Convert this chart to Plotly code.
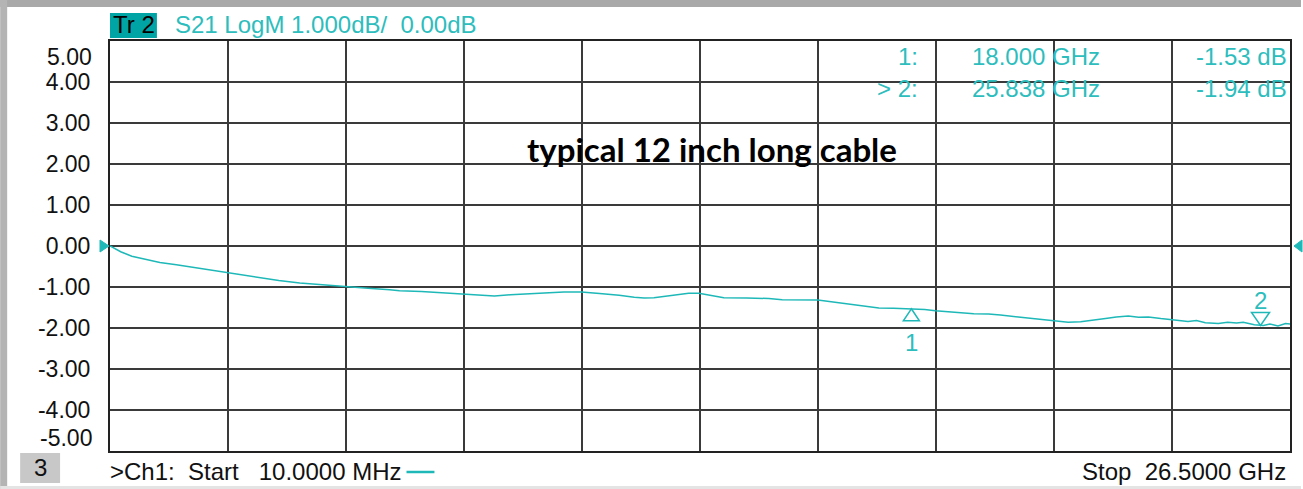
import plotly.graph_objects as go

# ---- data ----
freq_ghz = [0.01, 0.1, 0.25, 0.5, 0.8, 1.13, 1.5, 2.03, 2.65, 3.0, 3.37, 3.8, 4.27, 4.8, 5.3, 5.8,
            6.29, 6.51, 7.0, 7.5, 7.94, 8.3, 8.64, 9.0, 9.4, 9.87, 10.2, 10.59, 11.0, 11.44, 11.78,
            12.0, 12.22, 12.5, 12.78, 13.0, 13.23, 13.5, 13.79, 14.3, 14.8, 15.1, 15.47, 15.9, 16.2,
            16.59, 17.0, 17.27, 17.6, 17.98, 18.3, 18.54, 18.8, 19.06, 19.4, 19.73, 20.0, 20.4, 20.8,
            21.19, 21.52, 21.8, 22.08, 22.4, 22.6, 22.87, 23.1, 23.32, 23.6, 23.83, 24.0, 24.21, 24.4,
            24.6, 24.89, 25.1, 25.3, 25.45, 25.7, 25.9, 26.05, 26.23, 26.4, 26.5]
s21_db = [0.00, -0.06, -0.14, -0.25, -0.33, -0.40, -0.46, -0.55, -0.65, -0.71, -0.77, -0.84, -0.90, -0.95,
          -0.99, -1.03, -1.07, -1.09, -1.11, -1.14, -1.17, -1.19, -1.22, -1.19, -1.16, -1.14, -1.12, -1.12,
          -1.16, -1.20, -1.25, -1.27, -1.26, -1.22, -1.18, -1.15, -1.15, -1.20, -1.26, -1.27, -1.28, -1.31,
          -1.32, -1.32, -1.36, -1.41, -1.46, -1.51, -1.52, -1.53, -1.55, -1.58, -1.60, -1.63, -1.65, -1.66,
          -1.68, -1.73, -1.77, -1.81, -1.86, -1.85, -1.80, -1.76, -1.73, -1.71, -1.74, -1.73, -1.77, -1.79,
          -1.81, -1.84, -1.82, -1.87, -1.89, -1.86, -1.88, -1.86, -1.92, -1.94, -1.90, -1.95, -1.89, -1.90]

marker_ids = ["1", "2"]
marker_freq = [18.000, 25.838]
marker_db = [-1.53, -1.94]
marker_freq_text = ["18.000 GHz", "25.838 GHz"]
marker_db_text = ["-1.53 dB", "-1.94 dB"]

y_ticks = [-4, -3, -2, -1, 0, 1, 2, 3, 4]
y_edge_ticks = [5, -5]
y_min, y_max = -5, 5
ref_level_db = 0.0
start_ghz, stop_ghz = 0.01, 26.5
n_div = 10

TEAL = "#1fb8b8"
TEXT_TEAL = "#2dbdbd"
FONT = "Liberation Sans, Arial, sans-serif"
FS = 24
TICK_FS = 23

W, H = 1303, 489
L, R, T, B = 110, 1292, 41, 451


def px(x):
    return (x - L) / (R - L)


def py(y):
    return (B - y) / (B - T)


fig = go.Figure()
fig.add_trace(go.Scatter(x=freq_ghz, y=s21_db, mode="lines",
                         line=dict(color=TEAL, width=1.5), hoverinfo="skip", showlegend=False))

step = (stop_ghz - start_ghz) / n_div
xgrid = [start_ghz + i * step for i in range(n_div + 1)]

shapes = []
annotations = []

# window frame
shapes.append(dict(type="rect", xref="paper", yref="paper", x0=px(0), x1=px(W), y0=py(0), y1=py(7),
                   fillcolor="#a9a9a9", line_width=0, layer="above"))
shapes.append(dict(type="rect", xref="paper", yref="paper", x0=px(0), x1=px(7), y0=py(0), y1=py(H),
                   fillcolor="#b4b4b4", line_width=0, layer="above"))
shapes.append(dict(type="rect", xref="paper", yref="paper", x0=px(0), x1=px(W), y0=py(486), y1=py(H),
                   fillcolor="#e4e4e4", line_width=0, layer="above"))

# reference level arrows (paper-referenced so they are not clipped)
ref_paper_y = (ref_level_db - y_min) / (y_max - y_min)
shapes.append(dict(type="path", xref="paper", yref="paper", xsizemode="pixel", ysizemode="pixel",
                   xanchor=0, yanchor=ref_paper_y, path="M -10,6 L -1,0 L -10,-6 Z",
                   fillcolor=TEAL, line=dict(color=TEAL, width=1), layer="above"))
shapes.append(dict(type="path", xref="paper", yref="paper", xsizemode="pixel", ysizemode="pixel",
                   xanchor=1, yanchor=ref_paper_y, path="M 12,6 L 4,0 L 12,-6 Z",
                   fillcolor=TEAL, line=dict(color=TEAL, width=1), layer="above"))

# marker triangles
shapes.append(dict(type="path", xref="x", yref="y", xsizemode="pixel", ysizemode="pixel",
                   xanchor=marker_freq[0], yanchor=marker_db[0], path="M 0,0 L 8,-12 L -8,-12 Z",
                   line=dict(color=TEAL, width=1.5), layer="above"))
shapes.append(dict(type="path", xref="x", yref="y", xsizemode="pixel", ysizemode="pixel",
                   xanchor=marker_freq[1], yanchor=marker_db[1], path="M 0,0 L 9,13 L -9,13 Z",
                   line=dict(color=TEAL, width=1.5), layer="above"))
annotations.append(dict(x=marker_freq[0], y=marker_db[0], xref="x", yref="y", text=marker_ids[0],
                        showarrow=False, yshift=-34, font=dict(family=FONT, size=FS, color=TEXT_TEAL)))
annotations.append(dict(x=marker_freq[1], y=marker_db[1], xref="x", yref="y", text=marker_ids[1],
                        showarrow=False, yshift=25, font=dict(family=FONT, size=FS, color=TEXT_TEAL)))

# header
shapes.append(dict(type="rect", xref="paper", yref="paper", x0=px(110), x1=px(157), y0=py(13), y1=py(38),
                   fillcolor="#00a4a4", line_width=0))
annotations.append(dict(x=px(111), y=py(25), xref="paper", yref="paper", xanchor="left", yanchor="middle",
                        text="Tr 2", showarrow=False, font=dict(family=FONT, size=FS, color="#000000")))
annotations.append(dict(x=px(173), y=py(25), xref="paper", yref="paper", xanchor="left", yanchor="middle",
                        text="S21 LogM 1.000dB/\u00a0\u00a00.00dB", showarrow=False,
                        font=dict(family=FONT, size=FS, color=TEXT_TEAL)))

# marker table
rows_y = [56, 88]
prefixes = ["", ">\u00a0"]
for i in range(2):
    annotations.append(dict(x=px(921), y=py(rows_y[i]), xref="paper", yref="paper", xanchor="right",
                            yanchor="middle", text=prefixes[i] + marker_ids[i] + ":", showarrow=False,
                            font=dict(family=FONT, size=FS, color=TEXT_TEAL)))
    annotations.append(dict(x=px(971), y=py(rows_y[i]), xref="paper", yref="paper", xanchor="left",
                            yanchor="middle", text=marker_freq_text[i], showarrow=False,
                            font=dict(family=FONT, size=FS, color=TEXT_TEAL)))
    annotations.append(dict(x=px(1291), y=py(rows_y[i]), xref="paper", yref="paper", xanchor="right",
                            yanchor="middle", text=marker_db_text[i], showarrow=False,
                            font=dict(family=FONT, size=FS, color=TEXT_TEAL)))

# title text
annotations.append(dict(x=px(713), y=py(149), xref="paper", yref="paper", xanchor="center", yanchor="middle",
                        text="<b>typical 12 inch long cable</b>", showarrow=False,
                        font=dict(family="Lato, sans-serif", size=33, color="#000000")))

# edge y labels
for v, ypx in zip(y_edge_ticks, [57, 438]):
    annotations.append(dict(x=px(94), y=py(ypx), xref="paper", yref="paper", xanchor="right",
                            yanchor="middle", text=f"{v:.2f}", showarrow=False,
                            font=dict(family=FONT, size=TICK_FS, color="#111111")))

# bottom bar
shapes.append(dict(type="rect", xref="paper", yref="paper", x0=px(20), x1=px(60), y0=py(453), y1=py(483),
                   fillcolor="#c8c8c8", line_width=0))
annotations.append(dict(x=px(40), y=py(467), xref="paper", yref="paper", xanchor="center", yanchor="middle",
                        text="3", showarrow=False, font=dict(family=FONT, size=FS, color="#111111")))
annotations.append(dict(x=px(108), y=py(471), xref="paper", yref="paper", xanchor="left", yanchor="middle",
                        text=">Ch1:\u00a0\u00a0Start\u00a0\u00a0\u00a010.0000 MHz", showarrow=False,
                        font=dict(family=FONT, size=FS, color="#111111")))
shapes.append(dict(type="line", xref="paper", yref="paper", x0=px(407), x1=px(435), y0=py(472), y1=py(472),
                   line=dict(color=TEAL, width=2.5)))
annotations.append(dict(x=px(1290), y=py(471), xref="paper", yref="paper", xanchor="right", yanchor="middle",
                        text="Stop\u00a0\u00a026.5000 GHz", showarrow=False,
                        font=dict(family=FONT, size=FS, color="#111111")))

fig.update_layout(
    width=W, height=H,
    margin=dict(l=L, r=W - R, t=T, b=H - B, pad=0),
    paper_bgcolor="white", plot_bgcolor="white",
    showlegend=False,
    xaxis=dict(range=[start_ghz, stop_ghz], tickvals=xgrid, showticklabels=False, ticks="",
               showgrid=True, gridcolor="#3a3a3a", gridwidth=1.6, zeroline=False,
               showline=True, mirror=True, linecolor="#222222", linewidth=2),
    yaxis=dict(range=[y_min, y_max], tickvals=y_ticks, ticktext=[f"{v:.2f}" for v in y_ticks],
               ticks="outside", ticklen=13, tickcolor="rgba(0,0,0,0)",
               tickfont=dict(family=FONT, size=TICK_FS, color="#111111"),
               showgrid=True, gridcolor="#3a3a3a", gridwidth=1.6, zeroline=False,
               showline=True, mirror=True, linecolor="#222222", linewidth=2),
    shapes=shapes,
    annotations=annotations,
)

fig.write_html("out.html", config={"displayModeBar": False},
               post_script="document.body.style.margin='0';document.body.style.overflow='hidden';")
